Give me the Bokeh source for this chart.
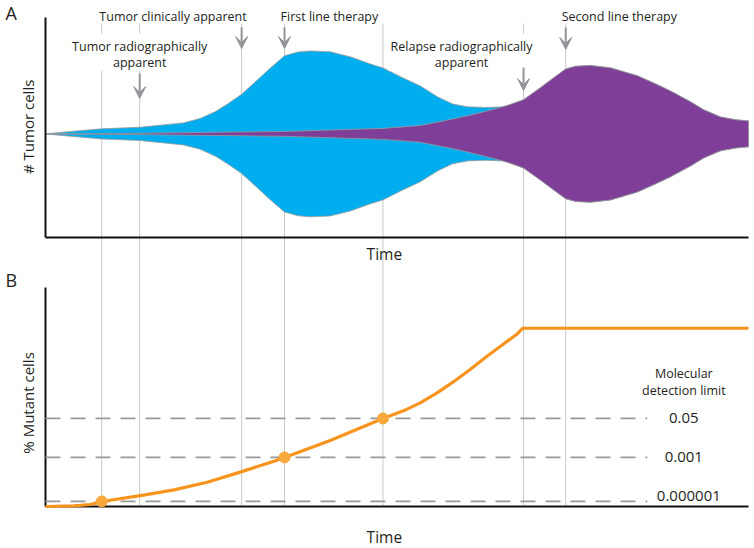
import numpy as np
from bokeh.plotting import figure
from bokeh.models import Range1d, Arrow, VeeHead
from bokeh.core.properties import value
from bokeh.embed import file_html
from bokeh.resources import INLINE

# ---------------- data ----------------
# time axis is arbitrary (0 = start, 100 = end of observation)
event_times = [8, 13.4, 27.9, 34, 48, 68, 74]
arrow_times = [13.4, 27.9, 34, 68, 74]
arrow_labels = ["Tumor radiographically\napparent", "Tumor clinically apparent",
                "First line therapy", "Relapse radiographically\napparent",
                "Second line therapy"]

# panel A: total tumour (half-width of the fish plot, arbitrary units)
tumor_t = [0, 3.6, 8, 13.4, 19.6, 22, 24.2, 26, 27.9, 29.9,
           32, 34, 35.9, 37.7, 40.5, 43.4, 46.2, 48, 50.5, 53.3,
           55.8, 57.9, 60, 62.6, 65.2, 68, 70.4, 72.5, 74, 75.4,
           77.5, 80.4, 84.2, 86.8, 88.9, 91.8, 93.6, 96, 98.2, 100]
tumor_hw = [0, 1.1, 2.3, 3.0, 5.0, 7.0, 10.2, 13.8, 18.0, 23.8,
            30, 35.5, 37.2, 37.7, 37.3, 35, 31.8, 30, 26, 21.8,
            16.8, 13.6, 12.3, 12, 12.3, 15.5, 21, 26, 29.5, 30.7,
            31.1, 30, 26.4, 22.7, 19.5, 14.5, 11, 7.7, 6.4, 5.9]
# panel A: resistant (mutant) clone
resistant_t = [0, 13.4, 34, 46.2, 48, 53.3, 58, 60.5, 62.9, 64.7,
               66.1, 68, 70.4, 72.5, 74, 75.4, 77.5, 80.4, 84.2, 86.8,
               88.9, 91.8, 93.6, 96, 98.2, 100]
resistant_hw = [0, 0.3, 1.1, 2.3, 2.5, 3.8, 6.8, 8.6, 10.5, 12.0,
                13.3, 15.5, 21, 26, 29.5, 30.7, 31.1, 30, 26.4, 22.7,
                19.5, 14.5, 11, 7.7, 6.4, 5.9]
tumor_center = 47.1

# panel B: % mutant cells (schematic display scale 0-100)
mutant_t = [0, 4.0, 6.4, 8, 13.5, 18.3, 23.0, 27.7, 32.5, 34, 40.5, 48,
            51.0, 53.3, 55.7, 58.1, 60.5, 62.8, 65.2, 67.1, 67.9, 100]
mutant_pct = [0, 0.3, 0.9, 2.3, 5.0, 7.6, 11.1, 15.7, 20.7, 22.4, 30.1, 40.2,
              43.8, 47.3, 51.9, 57.1, 62.8, 68.6, 74.3, 78.8, 81.4, 81.4]
detection_times = [8, 34, 48]
detection_levels = [2.3, 22.4, 40.2]
detection_labels = ["0.000001", "0.001", "0.05"]
dash_end = 85.6

# ---------------- styles ----------------
FONT = value("Open Sans")
TXT = "#231f20"
BLUE = "#00aeef"
PURPLE = "#7f3f98"
ORANGE = "#f7941d"
DOT = "#f9a83c"
GRAY_ARROW = "#939598"
GRAY_LINE = "#c9c9c9"
GRAY_DASH = "#999999"

p = figure(width=754, height=548, output_backend="svg", toolbar_location=None,
           x_range=Range1d(-6.401, 100.853), y_range=Range1d(-141.364, 107.727),
           min_border=0, x_axis_location=None, y_axis_location=None)
p.extra_y_ranges = {"B": Range1d(-19.178, 231.05)}
p.grid.grid_line_color = None
p.outline_line_color = None
p.background_fill_color = "white"
p.border_fill_color = "white"

# vertical event lines spanning both panels
n = len(event_times)
p.segment(x0=event_times, x1=event_times, y0=[0] * n, y1=[220.5] * n,
          y_range_name="B", line_color=GRAY_LINE, line_width=1)

# fish plot (panel A)
tt = np.array(tumor_t, dtype=float)
hw = np.array(tumor_hw, dtype=float)
p.patch(x=np.concatenate([tt, tt[::-1]]),
        y=np.concatenate([tumor_center + hw, (tumor_center - hw)[::-1]]),
        fill_color=BLUE, line_color="#9a9a9a", line_width=0.8)
rt = np.array(resistant_t, dtype=float)
rh = np.array(resistant_hw, dtype=float)
p.patch(x=np.concatenate([rt, rt[::-1]]),
        y=np.concatenate([tumor_center + rh, (tumor_center - rh)[::-1]]),
        fill_color=PURPLE, line_color="#9a9a9a", line_width=0.8)

# axes panel A
p.segment(x0=[0, 0], y0=[0, 0], x1=[0, 100], y1=[100, 0], line_color="#111111", line_width=2)
# axes panel B
p.segment(x0=[0, 0], y0=[0, 0], x1=[0, 100], y1=[100, 0], line_color="#111111",
          line_width=2, y_range_name="B")

# detection limit dashed lines
k = len(detection_levels)
p.segment(x0=[0] * k, x1=[dash_end] * k, y0=detection_levels, y1=detection_levels,
          y_range_name="B", line_color=GRAY_DASH, line_width=1.7, line_dash="15 10")

# mutant fraction curve
p.line(x=mutant_t, y=mutant_pct, y_range_name="B", line_color=ORANGE, line_width=3.2,
       line_join="round")
p.scatter(x=detection_times, y=detection_levels, y_range_name="B", size=11,
          fill_color=DOT, line_color=DOT)

# arrows
arrow_top = [74.5, 95.5, 95.5, 77.3, 95.5]
arrow_tip = [63.2, 85.9, 85.9, 66.8, 85.5]
for t, y0, y1 in zip(arrow_times, arrow_top, arrow_tip):
    p.add_layout(Arrow(end=VeeHead(size=12, fill_color=GRAY_ARROW, line_color=GRAY_ARROW, line_width=1),
                       x_start=t, y_start=y0, x_end=t, y_end=y1,
                       line_color=GRAY_ARROW, line_width=2))

# arrow labels: single-line ones
single = [(1, 100.4, "right", 5), (2, 100.4, "left", -4), (4, 100.6, "left", -4)]
for i, y, align, xo in single:
    p.text(x=[arrow_times[i]], y=[y], text=[arrow_labels[i]], text_font=FONT,
           text_font_size="12.5px", text_color=TXT, text_align=align,
           text_baseline="alphabetic", x_offset=xo)
# two-line labels with white background (they interrupt the event lines)
double = [(0, 92.6, 0), (3, 92.6, -62)]
for i, y, xo in double:
    p.text(x=[arrow_times[i]], y=[y], text=[arrow_labels[i]], text_font=FONT,
           text_font_size="12.5px", text_color=TXT, text_align="center",
           text_baseline="top", text_line_height=0.95, x_offset=xo,
           background_fill_color="white",
           padding=dict(left=2, right=2, top=4, bottom=0))

# axis titles
p.text(x=[48.2], y=[-7.6], text=["Time"], text_font=FONT, text_font_size="15.5px",
       text_color=TXT, text_align="center", text_baseline="alphabetic")
p.text(x=[48.2], y=[-14.1], text=["Time"], text_font=FONT, text_font_size="15.5px",
       text_color=TXT, text_align="center", text_baseline="alphabetic", y_range_name="B")
p.text(x=[-2.55], y=[50.3], text=["# Tumor cells"], text_font=FONT, text_font_size="15px",
       text_color=TXT, text_align="center", text_baseline="alphabetic", angle=np.pi / 2)
p.text(x=[-2.55], y=[47.3], text=["% Mutant cells"], text_font=FONT, text_font_size="15px",
       text_color=TXT, text_align="center", text_baseline="alphabetic", angle=np.pi / 2,
       y_range_name="B")
# panel letters
p.text(x=[-5.7], y=[102.0], text=["A"], text_font=FONT, text_font_size="18px",
       text_color=TXT, text_align="left", text_baseline="alphabetic")
p.text(x=[-5.7], y=[103.4], text=["B"], text_font=FONT, text_font_size="18px",
       text_color=TXT, text_align="left", text_baseline="alphabetic", y_range_name="B")

# detection limit labels
p.text(x=[90.8] * k, y=detection_levels, text=detection_labels, text_font=FONT,
       text_font_size="15px", text_color=TXT, text_align="center", text_baseline="middle",
       x_offset=[5, 0, 0], y_offset=[-5, 0, 0], y_range_name="B")
p.text(x=[90.8, 90.8], y=[60.6, 53.0], text=["Molecular", "detection limit"], text_font=FONT,
       text_font_size="12.5px", text_color=TXT, text_align="center",
       text_baseline="alphabetic", y_range_name="B")

open("out.html", "w").write(file_html(p, INLINE))
